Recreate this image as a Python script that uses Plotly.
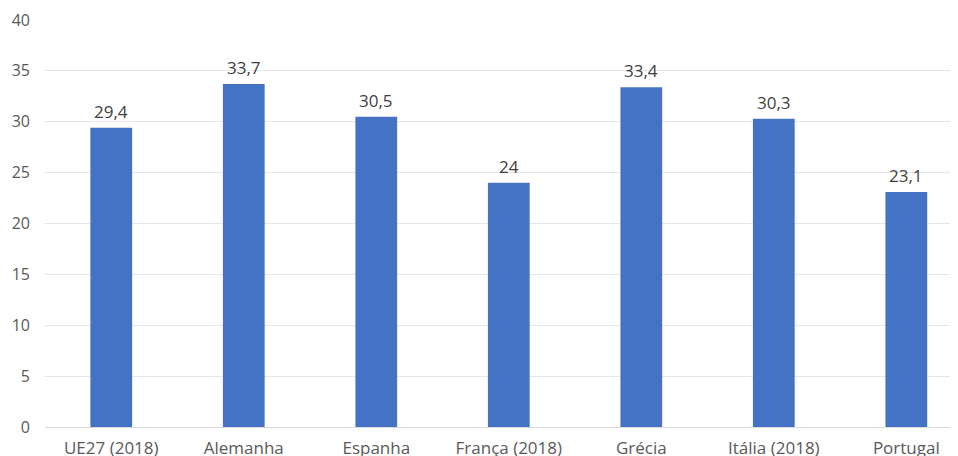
import plotly.graph_objects as go

categories = ["UE27 (2018)", "Alemanha", "Espanha", "França (2018)", "Grécia", "Itália (2018)", "Portugal"]
values = [29.4, 33.7, 30.5, 24, 33.4, 30.3, 23.1]
labels = ["29,4", "33,7", "30,5", "24", "33,4", "30,3", "23,1"]
y_ticks = [0, 5, 10, 15, 20, 25, 30, 35, 40]

xs = list(range(len(categories)))
fig = go.Figure(go.Bar(
    x=xs, y=values,
    marker=dict(color="#4472C4", line=dict(width=0)),
    width=0.315,
))
for x, v, t in zip(xs, values, labels):
    fig.add_annotation(x=x, y=v, text=t, showarrow=False, yanchor="bottom",
                       yshift=3, font=dict(size=17, color="#404040"))

fig.update_layout(
    width=950, height=448,
    margin=dict(l=37, r=0, t=12, b=29),
    paper_bgcolor="white", plot_bgcolor="white",
    font=dict(family="Open Sans, Noto Sans, sans-serif", size=16, color="#595959"),
    showlegend=False,
    xaxis=dict(range=[-0.5, 6.39], tickmode="array", tickvals=xs,
               ticktext=categories, showgrid=False, zeroline=False, showline=True,
               linecolor="#D9D9D9", linewidth=1, ticks="", ticklabelstandoff=6,
               automargin=False, tickfont=dict(size=17, color="#595959")),
    yaxis=dict(range=[0, 40], tickvals=y_ticks, showgrid=True, gridcolor="#E6E6E6",
               gridwidth=1, zeroline=False, showline=False, ticks="", automargin=False,
               ticklabelstandoff=14, tickfont=dict(size=16, color="#595959")),
)
fig.write_html("out.html")
